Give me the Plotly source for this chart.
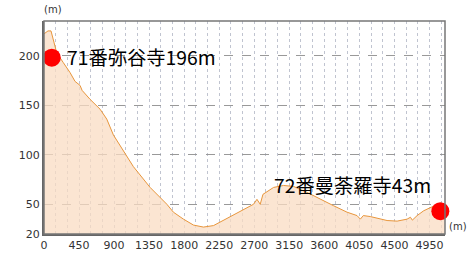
import plotly.graph_objects as go

# distance along route (m) and elevation (m)
dist = [0, 51, 90, 120, 163, 248, 334, 399, 437, 463, 489, 591, 720, 806, 891,
        1041, 1148, 1363, 1578, 1662, 1791, 1920, 2048, 2177, 2285, 2434, 2562,
        2691, 2735, 2777, 2812, 2948, 3077, 3205, 3378, 3549, 3720, 3892, 4020,
        4063, 4101, 4191, 4406, 4535, 4663, 4706, 4731, 4792, 4877, 5001, 5091, 5150]
elev = [222, 225, 225, 216, 203, 193, 183, 174, 171, 170, 165, 156, 146, 136, 120,
        101, 88, 67, 50, 42, 35, 29, 27, 28.5, 33, 39, 45,
        50, 55, 50, 60, 67, 69, 68, 62, 55, 48.5, 42, 38.6,
        35, 38.6, 37.6, 33.6, 33, 35, 36.9, 34, 38.6, 43.5, 48, 45, 44]

spot_x = [100, 5090]
spot_y = [198, 43]
spot_labels = ["71番弥谷寺196m", "72番曼荼羅寺43m"]

x_ticks = list(range(0, 5000, 450))
y_ticks = [20, 50, 100, 150, 200]

fig = go.Figure()
fig.add_trace(go.Scatter(
    x=dist, y=elev, mode="lines", fill="tozeroy",
    line=dict(color="#E8963C", width=1),
    fillcolor="rgba(250,220,195,0.75)",
    hoverinfo="skip", showlegend=False))
fig.add_trace(go.Scatter(
    x=spot_x, y=spot_y, mode="markers",
    marker=dict(color="#FF0000", size=18, line=dict(width=0)),
    showlegend=False, cliponaxis=False))

fig.add_annotation(x=spot_x[0], y=spot_y[0], text=spot_labels[0], showarrow=False,
                   xanchor="left", yanchor="middle", xshift=13, yshift=1,
                   font=dict(family="Noto Sans CJK JP", size=19.3, color="#000"))
fig.add_annotation(x=spot_x[1], y=spot_y[1], text=spot_labels[1], showarrow=False,
                   xanchor="right", yanchor="bottom", xshift=-7, yshift=10,
                   font=dict(family="Noto Sans CJK JP", size=19.3, color="#000"))

fig.add_annotation(xref="paper", yref="paper", x=-0.005, y=1.0, yshift=4,
                   text="(m)", showarrow=False, xanchor="left", yanchor="bottom",
                   font=dict(family="DejaVu Sans", size=10, color="#333"))
fig.add_annotation(xref="paper", yref="paper", x=1.0, y=0.0, xshift=2, yshift=0,
                   text="(m)", showarrow=False, xanchor="left", yanchor="bottom",
                   font=dict(family="DejaVu Sans", size=10, color="#333"))

fig.update_layout(
    width=473, height=264,
    margin=dict(l=44, r=28, t=21, b=27),
    paper_bgcolor="white", plot_bgcolor="white",
    font=dict(family="DejaVu Sans", size=11, color="#333"),
    xaxis=dict(range=[0, 5150], tickvals=x_ticks, ticks="",
               showgrid=True, gridcolor="#C0C4D0", griddash="dot", gridwidth=1,
               minor=dict(dtick=150, tick0=0, showgrid=True, gridcolor="#C0C4D0",
                          griddash="dot", gridwidth=1),
               showline=True, linecolor="#666", linewidth=2, mirror=False,
               zeroline=False, tickfont=dict(size=11)),
    yaxis=dict(range=[20, 235], tickvals=y_ticks, ticks="",
               showgrid=True, gridcolor="#999", griddash="dash", gridwidth=1,
               showline=True, linecolor="#666", linewidth=2, mirror=False,
               zeroline=False, tickfont=dict(size=11)),
    shapes=[dict(type="rect", xref="paper", yref="paper", x0=0, y0=0, x1=1, y1=1,
                 line=dict(color="#777", width=1.5), layer="above")],
)

fig.write_html("out.html")
